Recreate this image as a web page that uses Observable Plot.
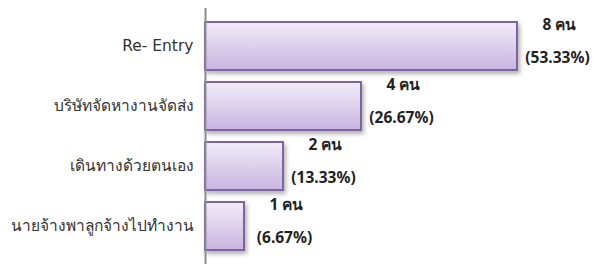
<!DOCTYPE html>
<html><head><meta charset="utf-8">
<script src="https://cdn.jsdelivr.net/npm/d3@7"></script>
<script src="https://cdn.jsdelivr.net/npm/@observablehq/plot@0.6"></script>
<style>body{margin:0;background:#fff}#chart svg{display:block}</style>
</head><body><div id="chart"></div>
<script>
const categories = ["Re- Entry", "บริษัทจัดหางานจัดส่ง", "เดินทางด้วยตนเอง", "นายจ้างพาลูกจ้างไปทำงาน"];
const counts = [8, 4, 2, 1];
const percentLabels = ["(53.33%)", "(26.67%)", "(13.33%)", "(6.67%)"];
const countLabels = ["8 คน", "4 คน", "2 คน", "1 คน"];

const data = categories.map((c, i) => ({cat: c, v: counts[i], n: countLabels[i], p: percentLabels[i]}));
const catFont = "'DejaVu Sans', Tahoma, sans-serif";
const valFont = "'Noto Sans', Tahoma, sans-serif";

const chart = Plot.plot({
  width: 606, height: 266,
  marginLeft: 205, marginRight: 89, marginTop: 8, marginBottom: 2,
  style: {fontFamily: catFont, background: "#fff"},
  x: {domain: [0, 8], axis: null},
  y: {domain: categories, padding: 0.2, label: null},
  marks: [
    Plot.barX(data, {x: "v", y: "cat", fill: "url(#barGrad)", stroke: "#8064a2", strokeWidth: 2}),
    Plot.ruleX([0], {stroke: "#8c8c8c", strokeWidth: 2}),
    Plot.text(data, {x: "v", y: "cat", text: "n", dx: 42, dy: -21, fontSize: 15.5, fontWeight: "bold", fontFamily: valFont, fill: "#222", textAnchor: "middle"}),
    Plot.text(data, {x: "v", y: "cat", text: "p", dx: 40, dy: 12, fontSize: 15.5, fontWeight: "bold", fontFamily: valFont, fill: "#222", textAnchor: "middle"}),
    Plot.axisY({tickSize: 0, tickPadding: 12, fontSize: 15.5, color: "#333"})
  ]
});

const svg = d3.select(chart);
const defs = svg.insert("defs", ":first-child");
const g = defs.append("linearGradient").attr("id", "barGrad").attr("x1", 0).attr("y1", 0).attr("x2", 0).attr("y2", 1);
g.append("stop").attr("offset", "0%").attr("stop-color", "#f1ecf8");
g.append("stop").attr("offset", "100%").attr("stop-color", "#c8b5e0");
const f = defs.append("filter").attr("id", "shadow").attr("x", "-10%").attr("y", "-10%").attr("width", "130%").attr("height", "140%");
f.append("feDropShadow").attr("dx", 2).attr("dy", 3).attr("stdDeviation", 2).attr("flood-color", "#000").attr("flood-opacity", 0.3);
svg.selectAll("g[aria-label='bar'] rect").attr("filter", "url(#shadow)");

document.getElementById("chart").appendChild(chart);
</script></body></html>
